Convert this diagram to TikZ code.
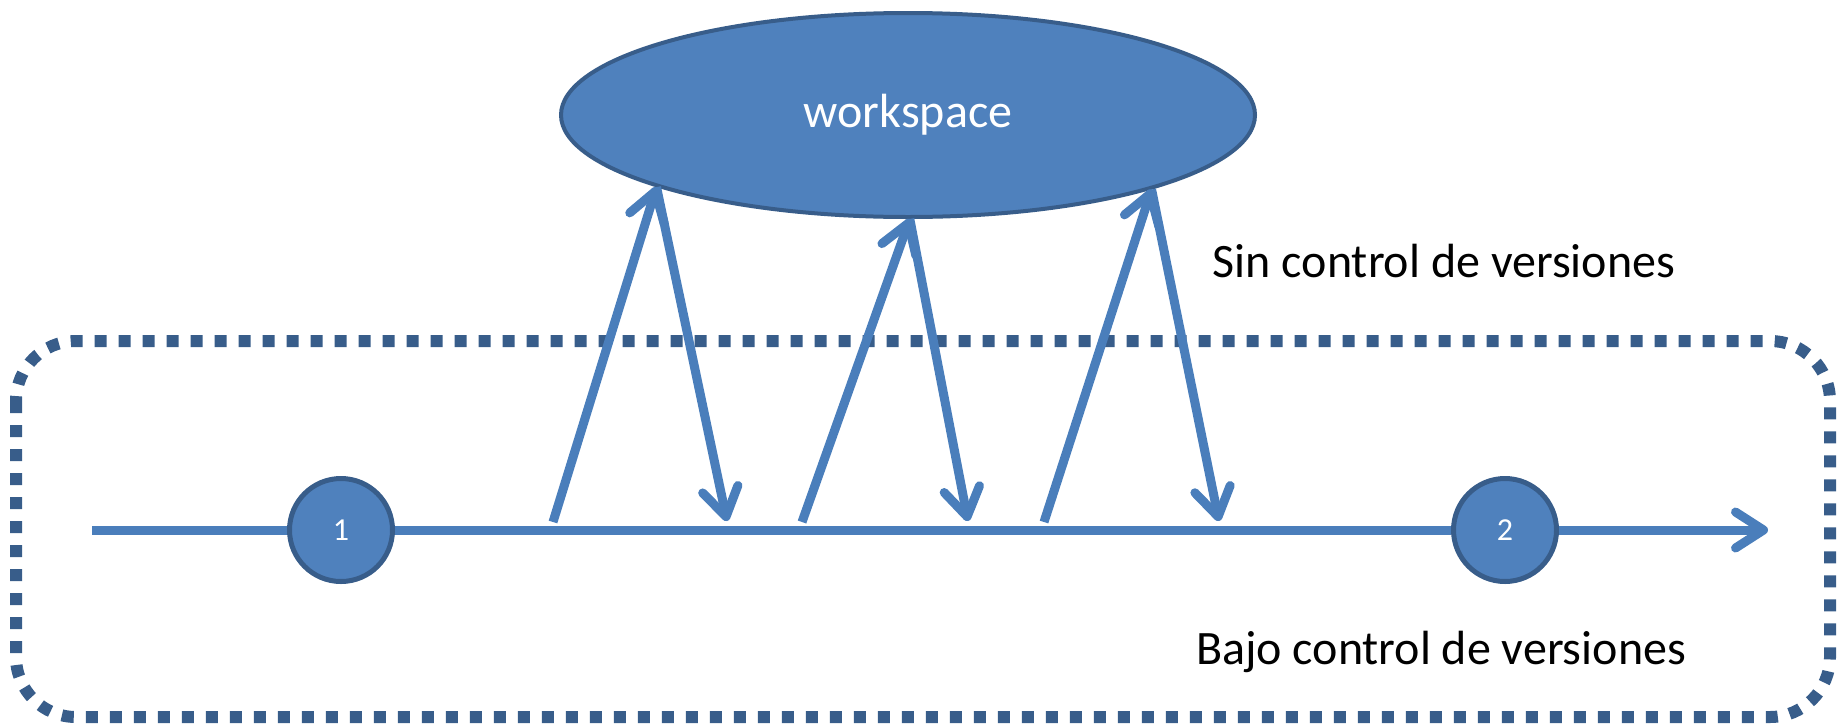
\documentclass[tikz,border=0pt]{standalone}
\usepackage{fontspec}
\setmainfont{Carlito}
\usetikzlibrary{arrows.meta,shapes.geometric}
\definecolor{ofblue}{HTML}{4F81BD}
\definecolor{ofdark}{HTML}{385D8A}
\definecolor{ofline}{HTML}{4A7EBB}

\begin{document}
\begin{tikzpicture}[x=1pt,y=-1pt,>={Straight Barb[length=28pt,width=36pt,round]}]
    \tikzstyle{version} = [circle,fill=ofblue,draw=ofdark,line width=5pt,minimum size=103pt,inner sep=0pt,text=white,font=\fontsize{32}{38}\selectfont];
    \tikzstyle{flujo} = [draw=ofline,line width=9pt];
    \tikzstyle{rotulo} = [font=\fontsize{48}{56}\selectfont];
    \useasboundingbox (0,0) rectangle (1841,726);
    \draw[ofdark,line width=12pt,dash pattern=on 12pt off 12pt,rounded corners=60pt] (16,341) rectangle (1830,717);
    \node[ellipse,fill=ofblue,draw=ofdark,line width=4pt,minimum width=694pt,minimum height=204pt,inner sep=0pt,text=white,rotulo] (ws) at (908,115) {workspace};
    \coordinate (ini) at (92,530);
    \coordinate (fin) at (1768,530);
    \node[version] (v1) at (341,530) {1};
    \node[version] (v2) at (1505,530) {2};
    \draw[flujo] (ini) -- (v1);
    \draw[flujo] (v1) -- (v2);
    \draw[flujo,->] (v2) -- (fin);
    \coordinate (u1) at (553,522);
    \coordinate (d1) at (727,521);
    \coordinate (u2) at (802,522);
    \coordinate (d2) at (968,521);
    \coordinate (u3) at (1044,522);
    \coordinate (d3) at (1219,521);
    \draw[flujo,->] (u1) -- (ws.196.5);
    \draw[flujo,->] (ws.196.5) -- (d1);
    \draw[flujo,->] (u2) -- (ws.271);
    \draw[flujo,->] (ws.271) -- (d2);
    \draw[flujo,->] (u3) -- (ws.343.1);
    \draw[flujo,->] (ws.343.1) -- (d3);
    \node[rotulo,anchor=base] (sin) at (1444,277) {Sin control de versiones};
    \node[rotulo,anchor=base] (bajo) at (1441,664) {Bajo control de versiones};
\end{tikzpicture}
\end{document}
